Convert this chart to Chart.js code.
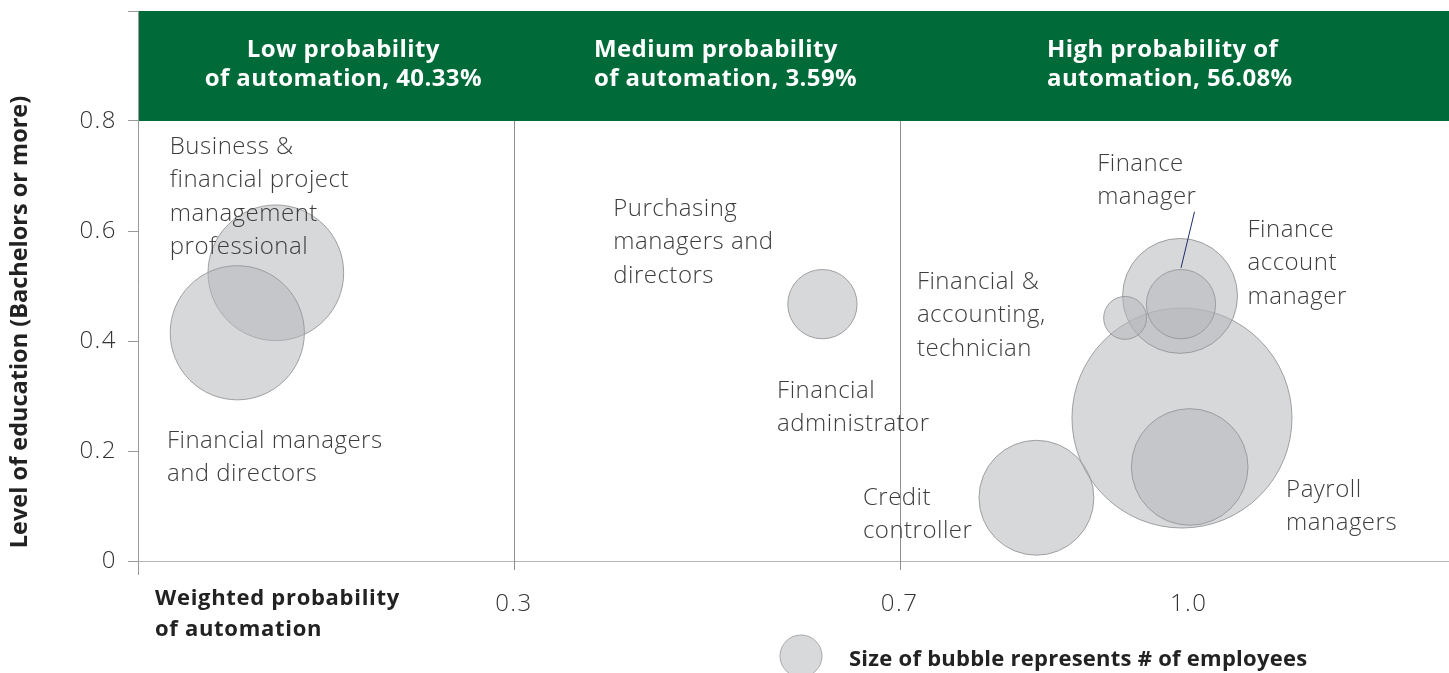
<!DOCTYPE html>
<html><head><meta charset="utf-8">
<script src="https://cdn.jsdelivr.net/npm/chart.js@4/dist/chart.umd.min.js"></script>
<style>html,body{margin:0;padding:0;background:#fff;}#wrap{width:1449px;height:673px;position:relative;}</style>
</head><body><div id="wrap"><canvas id="c" width="1449" height="673"></canvas></div>
<script>
// ---- data ----
const occupations = ['Business & financial project management professional','Financial managers and directors','Purchasing managers and directors','Credit controller','Financial administrator','Finance account manager','Financial & accounting technician','Finance manager','Payroll managers'];
const probability = [0.053, 0.013, 0.620, 0.842, 0.993, 0.991, 0.934, 0.992, 1.001];
const education   = [0.524, 0.415, 0.467, 0.115, 0.260, 0.482, 0.442, 0.467, 0.171];
const employees   = [46, 45, 12, 33, 121, 33, 4.6, 12, 34]; // relative size (est.)
const xTickValues = [0.3, 0.7, 1.0];
const xTickLabels = ['0.3', '0.7', '1.0'];
const yTickValues = [0, 0.2, 0.4, 0.6, 0.8, 1.0];
const yTickLabels = ['0', '0.2', '0.4', '0.6', '0.8', ''];
const zoneBounds  = [0.3, 0.7];
const zoneTitles  = [['Low probability', 'of automation, 40.33%'], ['Medium probability', 'of automation, 3.59%'], ['High probability of', 'automation, 56.08%']];
const yTitle = 'Level of education (Bachelors or more)';
const xTitle = ['Weighted probability', 'of automation'];
const legendText = 'Size of bubble represents # of employees';

// ---- annotation layout (data coordinates) ----
const zoneTitleLayout = [
  {x: 0.123, y: 0.929, align: 'center'},
  {x: 0.383, y: 0.929, align: 'left'},
  {x: 0.853, y: 0.929, align: 'left'}
];
const annotations = [
  {x: -0.057, y: 0.753, lines: ['Business &', 'financial project', 'management', 'professional']},
  {x: -0.060, y: 0.218, lines: ['Financial managers', 'and directors']},
  {x: 0.403, y: 0.640, lines: ['Purchasing', 'managers and', 'directors']},
  {x: 0.573, y: 0.309, lines: ['Financial', 'administrator']},
  {x: 0.718, y: 0.507, lines: ['Financial &', 'accounting,', 'technician']},
  {x: 0.905, y: 0.722, lines: ['Finance', 'manager']},
  {x: 1.061, y: 0.602, lines: ['Finance', 'account', 'manager']},
  {x: 1.101, y: 0.129, lines: ['Payroll', 'managers']},
  {x: 0.662, y: 0.115, lines: ['Credit', 'controller']}
];
const leader = {from: [1.006, 0.635], to: [0.992, 0.533]};

const FONT = "'Open Sans', 'Noto Sans', sans-serif";
const GREEN = '#006a39';
const BUBBLE_FILL = 'rgba(182,183,186,0.54)';
const BUBBLE_BORDER = 'rgba(150,151,154,0.9)';

const points = probability.map((p, i) => ({x: p, y: education[i], r: Math.sqrt(employees[i]) * 10}));

const overlay = {
  id: 'overlay',
  beforeDraw(chart) { chart.ctx.letterSpacing = '1.5px'; },
  afterDraw(chart) { chart.ctx.letterSpacing = '0px'; },
  beforeDatasetsDraw(chart) {
    const {ctx, chartArea: a, scales: {x, y}} = chart;
    ctx.save();
    const top = y.getPixelForValue(1.0), bot = y.getPixelForValue(0.8);
    ctx.fillStyle = GREEN;
    ctx.fillRect(a.left + 1, top, chart.width - a.left, bot - top);
    ctx.strokeStyle = '#8e8e8e';
    ctx.lineWidth = 1;
    zoneBounds.forEach(b => {
      const px = Math.round(x.getPixelForValue(b)) + 0.5;
      ctx.beginPath(); ctx.moveTo(px, bot); ctx.lineTo(px, a.bottom + 9); ctx.stroke();
    });
    // y axis extension below
    ctx.strokeStyle = '#999';
    ctx.beginPath(); ctx.moveTo(a.left + 0.5, a.bottom); ctx.lineTo(a.left + 0.5, a.bottom + 14); ctx.stroke();
    // zone titles
    ctx.fillStyle = '#fff';
    ctx.font = `bold 24px ${FONT}`;
    ctx.letterSpacing = '0.4px';
    ctx.textBaseline = 'middle';
    zoneTitles.forEach((lines, i) => {
      const L = zoneTitleLayout[i];
      ctx.textAlign = L.align;
      const px = x.getPixelForValue(L.x), py = y.getPixelForValue(L.y);
      lines.forEach((t, j) => ctx.fillText(t, px, py + j * 29));
    });
    // y title
    ctx.fillStyle = '#222';
    ctx.font = `bold 23.5px ${FONT}`;
    ctx.letterSpacing = '0px';
    ctx.textAlign = 'center';
    ctx.translate(20, (a.top + a.bottom) / 2 + 36);
    ctx.rotate(-Math.PI / 2);
    ctx.fillText(yTitle, 0, 0);
    ctx.restore();
  },
  afterDatasetsDraw(chart) {
    const {ctx, chartArea: a, scales: {x, y}} = chart;
    ctx.save();
    ctx.fillStyle = '#3d3d3d';
    ctx.font = `300 24px ${FONT}`;
    ctx.letterSpacing = '0.5px';
    ctx.textAlign = 'left';
    ctx.textBaseline = 'middle';
    annotations.forEach(an => {
      const px = x.getPixelForValue(an.x), py = y.getPixelForValue(an.y);
      an.lines.forEach((t, j) => ctx.fillText(t, px, py + j * 33.5));
    });
    ctx.strokeStyle = '#1f2d6b';
    ctx.lineWidth = 1;
    ctx.beginPath();
    ctx.moveTo(x.getPixelForValue(leader.from[0]), y.getPixelForValue(leader.from[1]));
    ctx.lineTo(x.getPixelForValue(leader.to[0]), y.getPixelForValue(leader.to[1]));
    ctx.stroke();
    // x title
    ctx.fillStyle = '#222';
    ctx.font = `bold 22px ${FONT}`;
    ctx.letterSpacing = '0.7px';
    xTitle.forEach((t, j) => ctx.fillText(t, a.left + 17, a.bottom + 38 + j * 31));
    // legend
    const cx = a.left + 663, cy = chart.height - 17;
    ctx.beginPath(); ctx.arc(cx, cy, 21, 0, Math.PI * 2);
    ctx.fillStyle = '#d8d9db'; ctx.fill();
    ctx.strokeStyle = '#a8a9ac'; ctx.stroke();
    ctx.fillStyle = '#222';
    ctx.font = `bold 22px ${FONT}`;
    ctx.letterSpacing = '0.25px';
    ctx.fillText(legendText, cx + 48, chart.height - 13);
    ctx.restore();
  }
};

new Chart(document.getElementById('c'), {
  type: 'bubble',
  data: {
    labels: occupations,
    datasets: [{
      label: 'Occupations',
      data: points,
      backgroundColor: BUBBLE_FILL,
      borderColor: BUBBLE_BORDER,
      borderWidth: 1,
      hoverRadius: 0
    }]
  },
  options: {
    responsive: false,
    animation: false,
    events: [],
    layout: {autoPadding: false, padding: {top: 11, right: 0, left: 0, bottom: 0}},
    plugins: {legend: {display: false}, tooltip: {enabled: false}},
    scales: {
      x: {
        type: 'linear', min: -0.09, max: 1.27,
        afterBuildTicks: s => { s.ticks = xTickValues.map(v => ({value: v})); },
        afterFit: s => { s.height = 112; s.paddingLeft = 0; s.paddingRight = 0; },
        ticks: {
          callback: (v, i) => xTickLabels[i],
          font: {family: FONT, size: 24, weight: '300'}, color: '#333', padding: 29, maxRotation: 0, autoSkip: false
        },
        grid: {drawOnChartArea: false, drawTicks: false, color: 'transparent'},
        border: {display: true, color: '#b5b5b5'}
      },
      y: {
        type: 'linear', min: 0, max: 1.0,
        afterBuildTicks: s => { s.ticks = yTickValues.map(v => ({value: v})); },
        afterFit: s => { s.width = 138; s.paddingTop = 0; s.paddingBottom = 0; },
        ticks: {
          callback: (v, i) => yTickLabels[i],
          font: {family: FONT, size: 24, weight: '300'}, color: '#333', padding: 11, autoSkip: false
        },
        grid: {drawOnChartArea: false, drawTicks: true, tickLength: 10, color: '#999'},
        border: {display: true, color: '#999'},
        title: {display: false}
      }
    }
  },
  plugins: [overlay]
});
</script>
</body></html>
